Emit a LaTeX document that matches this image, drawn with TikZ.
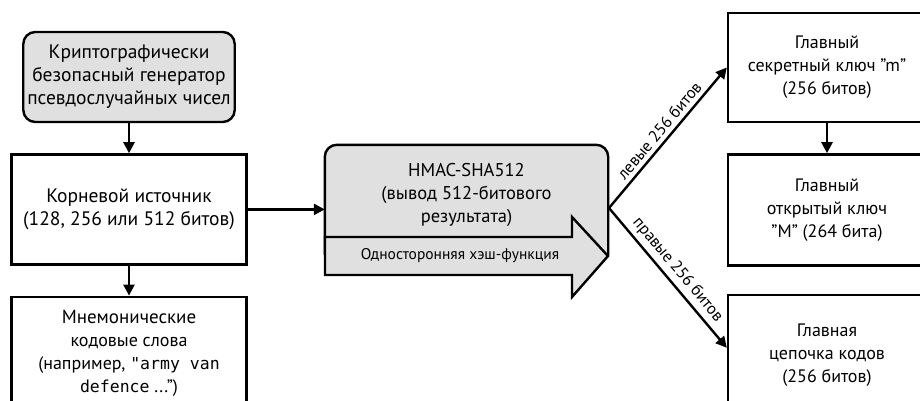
\documentclass[tikz,border=0pt]{standalone}
\usepackage{fontspec}
\setmainfont{PT Sans}
\setmonofont{DejaVu Sans Mono}
\usepackage{xcolor}
\definecolor{shade}{RGB}{224, 224, 224}
\usetikzlibrary{arrows.meta,positioning,backgrounds}
\newcommand{\dq}{\symbol{34}}

\begin{document}
\begin{tikzpicture}[x=1pt, y=1pt,
  box/.style={draw=black, line width=2.4pt, align=center, inner sep=4pt, font=\fontsize{18}{23}\selectfont},
  big/.style={font=\fontsize{19.5}{23}\selectfont},
  flow/.style={-{Triangle[length=11pt,width=11pt]}, line width=2.4pt},
  lbl/.style={font=\fontsize{16.5}{18}\selectfont, sloped, above=3pt, inner sep=1pt}
]
\useasboundingbox (0,0) rectangle (920,400);
\clip (0,0) rectangle (920,400);

\node[box, big, fill=shade, rounded corners=12pt, minimum width=208pt, minimum height=90pt] (rng) at (129,323) {
  Криптографически\\безопасный генератор\\псевдослучайных чисел
};
\node[box, big, minimum width=235pt, minimum height=110pt, below=30pt of rng] (root) {
  Корневой источник\\(128, 256 или 512 битов)
};
\node[box, minimum width=235pt, minimum height=114pt, below=30pt of root] (mnem) {
  \fontsize{19}{23}\selectfont Мнемонические\\кодовые слова\\(например, {\fontsize{16.5}{23}\ttfamily\dq army van}\\{\fontsize{16.5}{23}\ttfamily defence} ...\dq)
};

\node[align=center, font=\fontsize{18.5}{23}\selectfont, minimum width=283pt, minimum height=100pt] (hmac) at (466.5,205) {
  HMAC-SHA512\\(вывод 512-битового\\результата)
};
\begin{scope}[on background layer]
  \draw[fill=shade, line width=2.4pt, rounded corners=12pt]
    ([yshift=-10pt]hmac.south west) -- (hmac.north west) -- (hmac.north east) -- ([yshift=-10pt]hmac.south east);
\end{scope}
\draw[fill=shade, line width=2.4pt, line join=miter]
  (325,163) -- (572,163) -- (572,183) -- (608,144) -- (572,103) -- (572,125) -- (325,125) -- cycle;
\node[font=\fontsize{15.5}{17}\selectfont] (owf) at (460,144) {Односторонняя хэш-функция};

\node[box, minimum width=198pt, minimum height=109pt] (msk) at (827,332.5) {
  Главный\\секретный ключ \dq m\dq\\(256 битов)
};
\node[box, minimum width=198pt, minimum height=111pt, below=30pt of msk] (mpk) {
  Главный\\открытый ключ\\\dq M\dq{} (264 бита)
};
\node[box, minimum width=198pt, minimum height=120pt, below=27pt of mpk] (mcc) {
  Главная\\цепочка кодов\\(256 битов)
};

\coordinate (split) at (609,192);

\draw[flow] (rng) -- (root);
\draw[flow] (root) -- (mnem);
\draw[flow] (root.east) -- (hmac.west |- root.east);
\draw[flow] (split) -- node[lbl] {левые 256 битов} (msk.west);
\draw[flow] (split) -- node[lbl] {правые 256 битов} ([yshift=7pt]mcc.west);
\draw[flow] (msk) -- (mpk);
\end{tikzpicture}
\end{document}
